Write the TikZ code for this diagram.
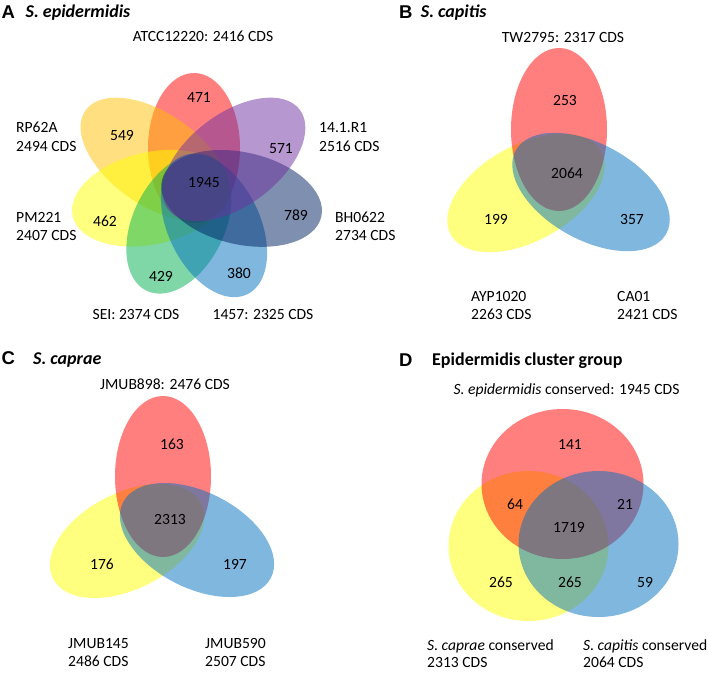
\documentclass[tikz,border=0pt]{standalone}
\usepackage{fontspec}
\setmainfont{Carlito}
\newfontfamily\letterfont{Liberation Sans}
\definecolor{vred}{RGB}{255,0,0}
\definecolor{vyellow}{RGB}{255,255,0}
\definecolor{vblue}{RGB}{0,112,192}
\definecolor{vpurple}{RGB}{112,48,160}
\definecolor{vslate}{RGB}{0,32,96}
\definecolor{vgreen}{RGB}{0,176,80}
\definecolor{vorange}{RGB}{255,192,0}
\newcommand\vpetal[6]{\fill[#1, fill opacity=0.5, rotate around={#2:(#3,#4)}] (#3,#4) ellipse [x radius=#5pt, y radius=#6pt];}
\tikzset{
  lab/.style={font=\fontsize{15.6}{18}\selectfont, inner sep=0pt, anchor=base},
  labw/.style={lab, anchor=base west},
  hdr/.style={font=\fontsize{18}{21}\selectfont\bfseries\itshape, inner sep=0pt, anchor=base west},
  hdrup/.style={font=\fontsize{18}{21}\selectfont\bfseries, inner sep=0pt, anchor=base west},
  letter/.style={font=\letterfont\fontsize{18.5}{21}\selectfont\bfseries, inner sep=0pt, anchor=base west}
}
\begin{document}
\begin{tikzpicture}[x=1pt,y=-1pt]
\useasboundingbox (0,0) rectangle (708,672);
\fill[white] (0,0) rectangle (708,672);

% ---------- Panel A ----------
\vpetal{vred}{90}{194}{148}{75}{46}
\vpetal{vorange}{145}{155.0}{159.3}{85}{46}
\vpetal{vyellow}{12.86}{151.4}{198.2}{80.75}{46}
\vpetal{vgreen}{64.29}{178.9}{223.6}{74.5}{46}
\vpetal{vblue}{-64.29}{214.0}{225.4}{76.5}{46}
\vpetal{vslate}{-12.86}{241.6}{198.4}{81.75}{46}
\vpetal{vpurple}{37}{233.9}{159.4}{82.5}{46}

\node[letter] (la) at (1.5,18.3) {A};
\node[hdr] (ha) at (25.5,17.5) {S. epidermidis};
\node[lab] (a1) at (203,41) {ATCC12220: 2416 CDS};
\node[labw] (a2) at (16,132) {RP62A};
\node[labw] (a2b) at (16,151) {2494 CDS};
\node[labw] (a3) at (319,132) {14.1.R1};
\node[labw] (a3b) at (319,151) {2516 CDS};
\node[labw] (a4) at (16,222) {PM221};
\node[labw] (a4b) at (16,240) {2407 CDS};
\node[labw] (a5) at (335,222) {BH0622};
\node[labw] (a5b) at (335,240) {2734 CDS};
\node[lab] (a6) at (136,319) {SEI: 2374 CDS};
\node[lab] (a7) at (263,319) {1457: 2325 CDS};
\node[lab] (na1) at (199,102) {471};
\node[lab] (na2) at (281,153) {571};
\node[lab] (na3) at (296,220) {789};
\node[lab] (na4) at (239,278) {380};
\node[lab] (na5) at (161,281) {429};
\node[lab] (na6) at (105,226) {462};
\node[lab] (na7) at (122,140) {549};
\node[lab] (na0) at (204,187) {1945};

% ---------- Panel B ----------
\vpetal{vyellow}{29}{526}{193}{86}{48}
\vpetal{vred}{90}{559}{129.5}{81.5}{48}
\vpetal{vblue}{-29}{591}{192}{86}{48}
\node[letter] (lb) at (399,18.3) {B};
\node[hdr] (hb) at (420.7,17.5) {S. capitis};
\node[lab] (b1) at (563,42) {TW2795: 2317 CDS};
\node[labw] (b2) at (471,301) {AYP1020};
\node[labw] (b2b) at (471,319) {2263 CDS};
\node[labw] (b3) at (617,301) {CA01};
\node[labw] (b3b) at (617,319) {2421 CDS};
\node[lab] (nb1) at (565,105) {253};
\node[lab] (nb0) at (567,178) {2064};
\node[lab] (nb2) at (496,224) {199};
\node[lab] (nb3) at (632,224) {357};

% ---------- Panel C ----------
\vpetal{vyellow}{27}{127}{541}{83}{48}
\vpetal{vred}{90}{163}{476.5}{80.5}{48}
\vpetal{vblue}{-27}{197}{540}{83}{48}
\node[letter] (lc) at (1.5,364) {C};
\node[hdr] (hc) at (33,364) {S. caprae};
\node[lab] (c1) at (165,389.5) {JMUB898: 2476 CDS};
\node[labw] (c2) at (68,648.5) {JMUB145};
\node[labw] (c2b) at (68,666.5) {2486 CDS};
\node[labw] (c3) at (205,648.5) {JMUB590};
\node[labw] (c3b) at (205,666.5) {2507 CDS};
\node[lab] (nc1) at (172,449.5) {163};
\node[lab] (nc0) at (170,524.5) {2313};
\node[lab] (nc2) at (102,569.5) {176};
\node[lab] (nc3) at (235,569.5) {197};

% ---------- Panel D ----------
\fill[vyellow, fill opacity=0.5] (528.5,546) ellipse [x radius=80pt, y radius=75pt];
\fill[vred, fill opacity=0.5] (562.5,484) ellipse [x radius=81pt, y radius=75pt];
\fill[vblue, fill opacity=0.5] (598.5,544) ellipse [x radius=80pt, y radius=73pt];
\node[letter] (ld) at (399,366) {D};
\node[hdrup] (hd) at (432,365) {Epidermidis cluster group};
\node[lab] (d1) at (566.5,394) {\textit{S. epidermidis} conserved: 1945 CDS};
\node[labw] (d2) at (427,650) {\textit{S. caprae} conserved};
\node[labw] (d2b) at (427,667) {2313 CDS};
\node[labw] (d3) at (583,650) {\textit{S. capitis} conserved};
\node[labw] (d3b) at (583,667) {2064 CDS};
\node[lab] (nd1) at (570,449) {141};
\node[lab] (nd2) at (515,509.5) {64};
\node[lab] (nd3) at (625,509.5) {21};
\node[lab] (nd0) at (569,532) {1719};
\node[lab] (nd4) at (501,587.5) {265};
\node[lab] (nd5) at (570,587.5) {265};
\node[lab] (nd6) at (645,587.5) {59};
\end{tikzpicture}
\end{document}
